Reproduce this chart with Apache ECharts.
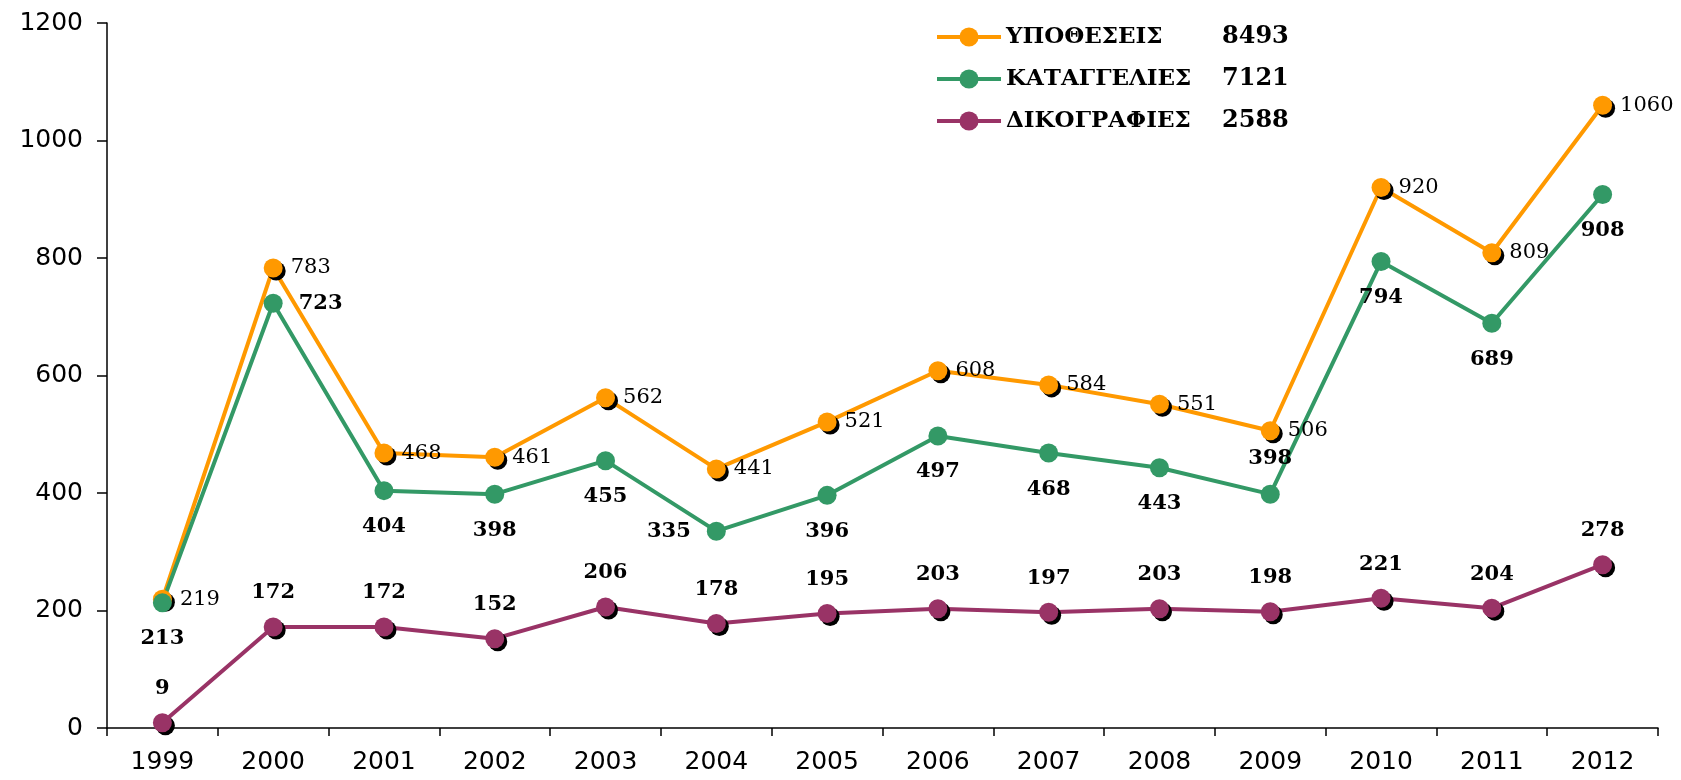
<!DOCTYPE html>
<html>
<head>
    <meta charset="utf-8">
    <title>Chart</title>
    <script src="https://cdn.jsdelivr.net/npm/echarts@6/dist/echarts.min.js"></script>
    <style>
        html, body {margin:0;padding:0;background:#fff;}
        #main {width:1681px;height:780px;}
    </style>
</head>
<body>
<div id="main"></div>
<script>
    var years = ['1999','2000','2001','2002','2003','2004','2005','2006','2007','2008','2009','2010','2011','2012'];
    var names = ['ΥΠΟΘΕΣΕΙΣ', 'ΚΑΤΑΓΓΕΛΙΕΣ', 'ΔΙΚΟΓΡΑΦΙΕΣ'];
    var totals = [8493, 7121, 2588];
    var ypotheseis = [219, 783, 468, 461, 562, 441, 521, 608, 584, 551, 506, 920, 809, 1060];
    var katagelies = [213, 723, 404, 398, 455, 335, 396, 497, 468, 443, 398, 794, 689, 908];
    var dikografies = [9, 172, 172, 152, 206, 178, 195, 203, 197, 203, 198, 221, 204, 278];
    var yTicks = [0, 200, 400, 600, 800, 1000, 1200];

    var colors = ['#FF9900', '#339966', '#993366'];
    // label placement for the green series (most below, a few elsewhere)
    var greenPos = ['bottom','right','bottom','bottom','bottom','left','bottom','bottom','bottom','bottom','top','bottom','bottom','bottom'];

    var shadow = {shadowColor:'#000', shadowBlur:0, shadowOffsetX:3, shadowOffsetY:3};
    var serif = 'DejaVu Serif';

    var chart = echarts.init(document.getElementById('main'));
    chart.setOption({
        animation: false,
        grid: {left:107, right:23, top:23, bottom:52},
        legend: {
            orient: 'vertical',
            left: 930,
            top: 20,
            itemWidth: 64,
            itemHeight: 24,
            itemGap: 18,
            itemStyle: {shadowColor:'transparent', shadowOffsetX:0, shadowOffsetY:0},
            lineStyle: {width:4},
            data: names,
            formatter: function (n) {
                var i = names.indexOf(n);
                return '{a|' + n + '}{b|' + totals[i] + '}';
            },
            textStyle: {
                rich: {
                    a: {fontFamily:serif, fontWeight:'bold', fontSize:23, color:'#000', width:216},
                    b: {fontFamily:serif, fontWeight:'bold', fontSize:24, color:'#000'}
                }
            }
        },
        xAxis: {
            type: 'category',
            data: years,
            boundaryGap: true,
            axisLine: {lineStyle:{color:'#000', width:1.5}},
            axisTick: {show:true, length:8, lineStyle:{color:'#000', width:1.5}},
            axisLabel: {color:'#000', fontFamily:'DejaVu Sans', fontSize:25, margin:22}
        },
        yAxis: {
            type: 'value',
            min: yTicks[0],
            max: yTicks[yTicks.length - 1],
            interval: 200,
            splitLine: {show:false},
            axisLine: {show:true, lineStyle:{color:'#000', width:1.5}},
            axisTick: {show:true, length:10, lineStyle:{color:'#000', width:1.5}},
            axisLabel: {color:'#000', fontFamily:'DejaVu Sans', fontSize:25, margin:24,
                formatter: function (v) { return String(v); }}
        },
        series: [
            {
                name: names[0],
                type: 'line',
                data: ypotheseis,
                symbol: 'circle',
                symbolSize: 19,
                color: colors[0],
                lineStyle: {width:4, color:colors[0]},
                itemStyle: Object.assign({color:colors[0]}, shadow),
                label: {show:true, position:'right', distance:8, color:'#000', fontFamily:serif, fontSize:21}
            },
            {
                name: names[1],
                type: 'line',
                data: katagelies.map(function (v, i) {
                    return {value: v, label: {position: greenPos[i]}};
                }),
                symbol: 'circle',
                symbolSize: 19,
                color: colors[1],
                lineStyle: {width:4, color:colors[1]},
                itemStyle: {color:colors[1]},
                label: {show:true, distance:16, color:'#000', fontFamily:serif, fontWeight:'bold', fontSize:21}
            },
            {
                name: names[2],
                type: 'line',
                data: dikografies,
                symbol: 'circle',
                symbolSize: 19,
                color: colors[2],
                lineStyle: {width:4, color:colors[2]},
                itemStyle: Object.assign({color:colors[2]}, shadow),
                label: {show:true, position:'top', distance:14, color:'#000', fontFamily:serif, fontWeight:'bold', fontSize:21}
            }
        ]
    });
</script>
</body>
</html>
